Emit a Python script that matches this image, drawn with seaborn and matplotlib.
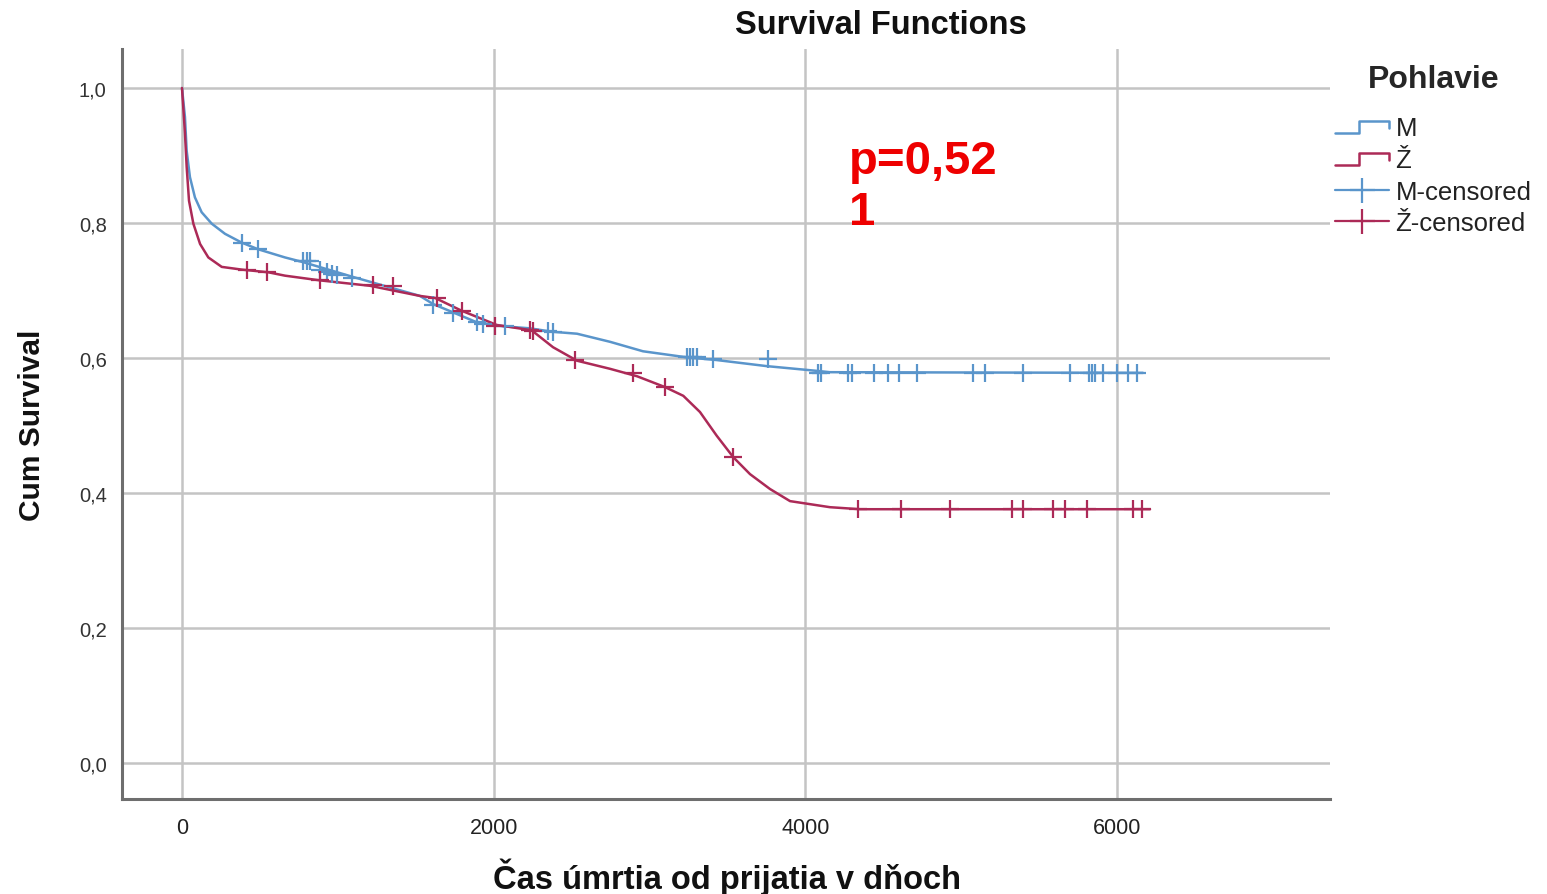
import numpy as np
import pandas as pd
import matplotlib
matplotlib.use("Agg")
import matplotlib.pyplot as plt
from matplotlib.lines import Line2D
from matplotlib.legend_handler import HandlerBase
import seaborn as sns

# ---------------- data ----------------
m_time = [0, 19, 30, 51, 83, 126, 191, 276, 383, 490, 661, 778, 1099, 1206, 1527, 1611,
          1891, 2062, 2233, 2372, 2535, 2747, 2958, 3239, 3431, 3752, 4073, 4158, 6167]
m_surv = [1.0, 0.957, 0.907, 0.868, 0.838, 0.816, 0.799, 0.784, 0.771, 0.761, 0.749, 0.742,
          0.720, 0.713, 0.692, 0.680, 0.653, 0.647, 0.644, 0.639, 0.636, 0.624, 0.610, 0.601,
          0.597, 0.588, 0.581, 0.579, 0.578]

z_time = [0, 19, 30, 45, 73, 116, 169, 255, 383, 554, 661, 886, 1206, 1527, 1624, 1795,
          2020, 2244, 2381, 2535, 2747, 2920, 3099, 3217, 3324, 3431, 3538, 3645, 3773,
          3902, 4158, 4351, 6212]
z_surv = [1.0, 0.933, 0.883, 0.833, 0.799, 0.769, 0.749, 0.735, 0.731, 0.727, 0.722, 0.715,
          0.707, 0.692, 0.689, 0.670, 0.649, 0.641, 0.616, 0.596, 0.584, 0.573, 0.557, 0.544,
          0.520, 0.485, 0.453, 0.428, 0.406, 0.388, 0.379, 0.376, 0.376]

m_cens_time = [383, 490, 779, 800, 821, 886, 929, 961, 993, 1089, 1613, 1741, 1895, 1934,
               2073, 2351, 2383, 3239, 3260, 3281, 3303, 3410, 3762, 4084, 4099, 4271, 4297,
               4441, 4533, 4601, 4719, 5077, 5152, 5395, 5698, 5822, 5842, 5859, 5912, 5998,
               6073, 6127]
m_cens_surv = [0.771, 0.761, 0.744, 0.744, 0.743, 0.730, 0.727, 0.725, 0.723, 0.718, 0.678,
               0.667, 0.653, 0.650, 0.647, 0.640, 0.639, 0.601, 0.601, 0.601, 0.601, 0.598,
               0.598, 0.578, 0.578, 0.578, 0.578, 0.578, 0.578, 0.578, 0.578, 0.578, 0.578,
               0.578, 0.578, 0.578, 0.578, 0.578, 0.578, 0.578, 0.578, 0.578]

z_cens_time = [415, 543, 886, 1228, 1356, 1634, 1795, 2009, 2233, 2254, 2522, 2896, 3099,
               3538, 4340, 4612, 4929, 5324, 5399, 5591, 5666, 5810, 6105, 6159]
z_cens_surv = [0.731, 0.728, 0.715, 0.708, 0.706, 0.689, 0.670, 0.648, 0.641, 0.640, 0.597,
               0.578, 0.557, 0.453, 0.376, 0.376, 0.376, 0.376, 0.376, 0.376, 0.376, 0.376,
               0.376, 0.376]

group_labels = ["M", "Ž"]
legend_labels = ["M", "Ž", "M-censored", "Ž-censored"]
y_ticks = [0.0, 0.2, 0.4, 0.6, 0.8, 1.0]
x_ticks = [0, 2000, 4000, 6000]
p_text = "p=0,52\n1"

# ---------------- style ----------------
sns.set_style("white")
plt.rcParams["font.family"] = ["Liberation Sans", "DejaVu Sans"]

BLUE = "#5a95cb"
RED = "#ac2a57"
GRID = "#c4c4c4"
SPINE = "#6e6e6e"

W, H = 1547, 895
fig = plt.figure(figsize=(W / 100, H / 100), dpi=100)
ax = fig.add_axes([122 / W, 1 - 800 / H, (1330 - 122) / W, (800 - 50) / H])

df_curves = pd.concat([
    pd.DataFrame({"t": m_time, "s": m_surv, "g": group_labels[0]}),
    pd.DataFrame({"t": z_time, "s": z_surv, "g": group_labels[1]}),
])
df_cens = pd.concat([
    pd.DataFrame({"t": m_cens_time, "s": m_cens_surv, "g": group_labels[0]}),
    pd.DataFrame({"t": z_cens_time, "s": z_cens_surv, "g": group_labels[1]}),
])
palette = {group_labels[0]: BLUE, group_labels[1]: RED}

sns.lineplot(data=df_curves, x="t", y="s", hue="g", palette=palette, estimator=None,
             sort=False, lw=1.8, legend=False, ax=ax, zorder=3)
for g in group_labels:
    sub = df_cens[df_cens["g"] == g]
    sns.scatterplot(x=sub["t"], y=sub["s"], marker="+", s=170, color=palette[g],
                    linewidth=1.6, legend=False, ax=ax, zorder=4)

ax.set_xlim(-385, 7367)
ax.set_ylim(-0.0533, 1.0578)
ax.set_xticks(x_ticks)
ax.set_yticks(y_ticks)
ax.set_yticklabels([f"{v:.1f}".replace(".", ",") for v in y_ticks])
ax.set_xticklabels([str(v) for v in x_ticks])
ax.grid(True, color=GRID, lw=1.8)
ax.set_axisbelow(True)
for side in ["top", "right"]:
    ax.spines[side].set_visible(False)
for side in ["left", "bottom"]:
    ax.spines[side].set_color(SPINE)
    ax.spines[side].set_linewidth(2.2)
ax.tick_params(axis="both", length=0)
ax.tick_params(axis="y", pad=11, labelsize=14.5, labelcolor="#333333")
ax.tick_params(axis="x", pad=13, labelsize=15.5, labelcolor="#222222")
ax.set_xlabel("")
ax.set_ylabel("")

fig.text(32 / W, 1 - 425 / H, "Cum Survival", rotation=90, ha="center", va="center",
         fontsize=21.5, fontweight="bold", color="#111111")
fig.text(727 / W, 1 - 877 / H, "Čas úmrtia od prijatia v dňoch", ha="center", va="center",
         fontsize=23.5, fontweight="bold", color="#111111")
fig.text(881 / W, 1 - 25 / H, "Survival Functions", ha="center", va="center",
         fontsize=23.5, fontweight="bold", color="#111111")
fig.text(849 / W, 1 - 140 / H, p_text, ha="left", va="top", fontsize=34,
         fontweight="bold", color="#ee0000", linespacing=1.22)


class StepHandler(HandlerBase):
    def create_artists(self, legend, orig_handle, xdescent, ydescent, width, height,
                       fontsize, trans):
        w, h = width, height
        xs = np.array([0, 0.45 * w, 0.45 * w, w, w]) - xdescent
        ys = np.array([0.1 * h, 0.1 * h, 0.8 * h, 0.8 * h, 0.4 * h]) - ydescent
        line = Line2D(xs, ys, color=orig_handle.get_color(), lw=1.8)
        line.set_transform(trans)
        return [line]


h_m = Line2D([], [], color=BLUE)
h_z = Line2D([], [], color=RED)
h_mc = Line2D([], [], color=BLUE, lw=1.6, marker="+", markersize=18, mew=1.6)
h_zc = Line2D([], [], color=RED, lw=1.6, marker="+", markersize=18, mew=1.6)
leg = ax.legend([h_m, h_z, h_mc, h_zc], legend_labels,
                handler_map={h_m: StepHandler(), h_z: StepHandler()},
                loc="upper left", bbox_to_anchor=(1335 / W, 1 - 65 / H),
                bbox_transform=fig.transFigure, frameon=False, borderpad=0,
                borderaxespad=0, handlelength=2.1, handletextpad=0.25,
                labelspacing=0.3, fontsize=18.5, title="Pohlavie",
                title_fontproperties={"weight": "bold", "size": 23})
leg._legend_box.sep = 16
for t in leg.get_texts():
    t.set_color("#222222")

fig.savefig("out.png", dpi=100)
